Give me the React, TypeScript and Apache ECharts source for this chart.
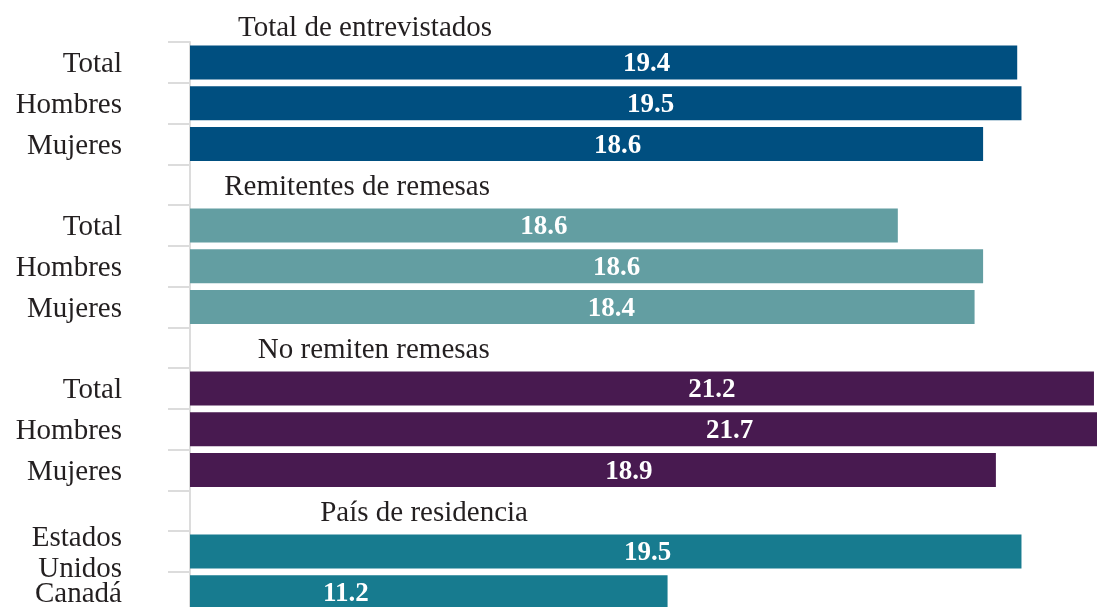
import React, { useEffect, useRef } from "react";
import * as echarts from "echarts";

// ---- Data ----
const groupTitles = [
  "Total de entrevistados",
  "Remitentes de remesas",
  "No remiten remesas",
  "País de residencia",
];
const groupRowLabels = [
  ["Total", "Hombres", "Mujeres"],
  ["Total", "Hombres", "Mujeres"],
  ["Total", "Hombres", "Mujeres"],
  ["Estados\nUnidos", "Canadá"],
];
// bar lengths as drawn in the picture
const groupValues = [
  [19.4, 19.5, 18.6],
  [16.6, 18.6, 18.4],
  [21.2, 21.7, 18.9],
  [19.5, 11.2],
];
// value labels as printed on the bars
const groupValueLabels = [
  ["19.4", "19.5", "18.6"],
  ["18.6", "18.6", "18.4"],
  ["21.2", "21.7", "18.9"],
  ["19.5", "11.2"],
];

// ---- Styling (kept apart from the data) ----
const groupColors = ["#004f80", "#639ea2", "#481a50", "#177b8f"];
const labelDx = [
  [43, 45, 31],
  [0, 30, 29],
  [70, 77, 36],
  [42, -83],
];
// horizontal centre of each group heading, in axis units
const headerCenter = [4.04, 3.92, 4.31, 5.49];

const FONT = "'Liberation Serif', 'Times New Roman', serif";
const TEXT = "#231f20";

export default function App() {
  const ref = useRef<HTMLDivElement>(null);

  useEffect(() => {
    if (!ref.current) return;
    const chart = echarts.init(ref.current, undefined, { renderer: "svg" });

    const categories: string[] = [];
    const barData: any[] = [];
    const headerData: any[] = [];

    groupTitles.forEach((title, g) => {
      if (g > 0) {
        headerData.push({ value: [headerCenter[g], categories.length], name: title });
        categories.push("");
        barData.push("-");
      }
      groupRowLabels[g].forEach((lab, i) => {
        categories.push(lab);
        barData.push({
          value: groupValues[g][i],
          name: groupValueLabels[g][i],
          itemStyle: { color: groupColors[g] },
          label: { offset: [labelDx[g][i], 0] },
        });
      });
    });

    chart.setOption({
      animation: false,
      title: {
        text: groupTitles[0],
        left: 233,
        top: 6,
        textStyle: { fontFamily: FONT, fontSize: 29, fontWeight: "normal", color: TEXT },
      },
      grid: { left: 190, top: 42, width: 1066, height: 570.5, containLabel: false },
      xAxis: { type: "value", min: 0, max: 25, show: false },
      yAxis: {
        type: "category",
        inverse: true,
        data: categories,
        axisLine: { show: true, lineStyle: { color: "#dcdcdc", width: 2 } },
        axisTick: { show: true, length: 22, lineStyle: { color: "#dcdcdc", width: 2 } },
        axisLabel: {
          interval: 0,
          margin: 68,
          fontFamily: FONT,
          fontSize: 29,
          color: TEXT,
          lineHeight: 31,
        },
        splitLine: { show: false },
      },
      series: [
        {
          type: "bar",
          data: barData,
          barWidth: 34,
          label: {
            show: true,
            position: "inside",
            color: "#ffffff",
            fontFamily: FONT,
            fontWeight: "bold",
            fontSize: 27,
            formatter: (p: any) => p.name,
          },
        },
        {
          type: "scatter",
          data: headerData,
          symbolSize: 0,
          itemStyle: { color: "transparent", opacity: 1 },
          silent: true,
          clip: false,
          label: {
            show: true,
            position: "inside",
            align: "center",
            verticalAlign: "middle",
            formatter: (p: any) => p.name,
            fontFamily: FONT,
            fontSize: 29,
            color: TEXT,
            opacity: 1,
          },
        },
      ],
    });

    return () => chart.dispose();
  }, []);

  return (
    <div
      ref={ref}
      style={{ position: "fixed", left: 0, top: 0, width: 1300, height: 640 }}
    />
  );
}
